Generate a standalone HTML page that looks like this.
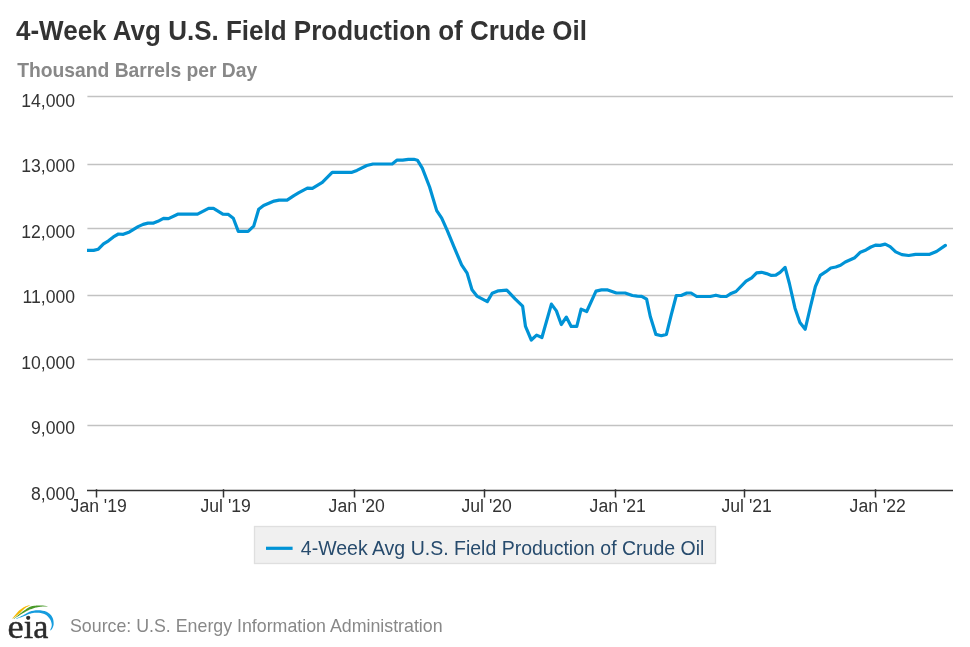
<!DOCTYPE html>
<html><head><meta charset="utf-8"><style>
html,body{margin:0;padding:0;background:#fff;width:970px;height:647px;overflow:hidden}
svg{display:block;will-change:transform}
</style></head><body>
<svg width="970" height="647" viewBox="0 0 970 647">
<text x="0" y="0" transform="translate(16 39.9) scale(1 1.055)" font-family="&quot;Liberation Sans&quot;, sans-serif" font-size="26" font-weight="700" fill="#333">4-Week Avg U.S. Field Production of Crude Oil</text>
<text x="17.2" y="76.6" font-family="&quot;Liberation Sans&quot;, sans-serif" font-size="19.3" font-weight="700" fill="#888">Thousand Barrels per Day</text>
<line x1="87.4" y1="96.5" x2="953" y2="96.5" stroke="#c2c2c2" stroke-width="1.3"/>
<line x1="87.4" y1="164.5" x2="953" y2="164.5" stroke="#c2c2c2" stroke-width="1.3"/>
<line x1="87.4" y1="228.5" x2="953" y2="228.5" stroke="#c2c2c2" stroke-width="1.3"/>
<line x1="87.4" y1="295.5" x2="953" y2="295.5" stroke="#c2c2c2" stroke-width="1.3"/>
<line x1="87.4" y1="359.5" x2="953" y2="359.5" stroke="#c2c2c2" stroke-width="1.3"/>
<line x1="87.4" y1="425.5" x2="953" y2="425.5" stroke="#c2c2c2" stroke-width="1.3"/>
<text x="75" y="106.6" font-family="&quot;Liberation Sans&quot;, sans-serif" font-size="17.6" fill="#333" text-anchor="end">14,000</text>
<text x="75" y="172.1" font-family="&quot;Liberation Sans&quot;, sans-serif" font-size="17.6" fill="#333" text-anchor="end">13,000</text>
<text x="75" y="237.7" font-family="&quot;Liberation Sans&quot;, sans-serif" font-size="17.6" fill="#333" text-anchor="end">12,000</text>
<text x="75" y="303.2" font-family="&quot;Liberation Sans&quot;, sans-serif" font-size="17.6" fill="#333" text-anchor="end">11,000</text>
<text x="75" y="368.8" font-family="&quot;Liberation Sans&quot;, sans-serif" font-size="17.6" fill="#333" text-anchor="end">10,000</text>
<text x="75" y="434.4" font-family="&quot;Liberation Sans&quot;, sans-serif" font-size="17.6" fill="#333" text-anchor="end">9,000</text>
<text x="75" y="499.9" font-family="&quot;Liberation Sans&quot;, sans-serif" font-size="17.6" fill="#333" text-anchor="end">8,000</text>
<line x1="87" y1="490.5" x2="953" y2="490.5" stroke="#333" stroke-width="1.5"/>
<line x1="96.5" y1="489.2" x2="96.5" y2="497.5" stroke="#333" stroke-width="1.5"/>
<text x="98.7" y="512" font-family="&quot;Liberation Sans&quot;, sans-serif" font-size="17.6" fill="#333" text-anchor="middle">Jan '19</text>
<line x1="223.5" y1="489.2" x2="223.5" y2="497.5" stroke="#333" stroke-width="1.5"/>
<text x="225.7" y="512" font-family="&quot;Liberation Sans&quot;, sans-serif" font-size="17.6" fill="#333" text-anchor="middle">Jul '19</text>
<line x1="354.5" y1="489.2" x2="354.5" y2="497.5" stroke="#333" stroke-width="1.5"/>
<text x="356.7" y="512" font-family="&quot;Liberation Sans&quot;, sans-serif" font-size="17.6" fill="#333" text-anchor="middle">Jan '20</text>
<line x1="484.5" y1="489.2" x2="484.5" y2="497.5" stroke="#333" stroke-width="1.5"/>
<text x="486.7" y="512" font-family="&quot;Liberation Sans&quot;, sans-serif" font-size="17.6" fill="#333" text-anchor="middle">Jul '20</text>
<line x1="615.5" y1="489.2" x2="615.5" y2="497.5" stroke="#333" stroke-width="1.5"/>
<text x="617.7" y="512" font-family="&quot;Liberation Sans&quot;, sans-serif" font-size="17.6" fill="#333" text-anchor="middle">Jan '21</text>
<line x1="744.5" y1="489.2" x2="744.5" y2="497.5" stroke="#333" stroke-width="1.5"/>
<text x="746.7" y="512" font-family="&quot;Liberation Sans&quot;, sans-serif" font-size="17.6" fill="#333" text-anchor="middle">Jul '21</text>
<line x1="875.5" y1="489.2" x2="875.5" y2="497.5" stroke="#333" stroke-width="1.5"/>
<text x="877.7" y="512" font-family="&quot;Liberation Sans&quot;, sans-serif" font-size="17.6" fill="#333" text-anchor="middle">Jan '22</text>
<clipPath id="pc"><rect x="87" y="80" width="870" height="420"/></clipPath>
<path clip-path="url(#pc)" d="M87.2 250.4 L93.6 250.4 L98.3 249.2 L103.5 243.9 L108.5 240.8 L113.4 236.9 L118.4 234.0 L123.3 234.3 L129.5 231.9 L138.1 226.6 L143.1 224.4 L148.0 223.1 L153.6 223.1 L157.9 221.3 L163.5 218.3 L168.5 218.6 L177.7 214.2 L197.5 214.2 L208.6 208.3 L213.5 208.3 L222.8 214.1 L228.4 214.4 L233.3 218.2 L238.3 231.4 L248.1 231.4 L253.7 226.1 L258.7 209.2 L263.6 205.5 L274.1 201.1 L279.1 200.1 L287.1 200.1 L293.9 195.6 L298.9 192.7 L307.4 188.1 L312.4 188.4 L322.3 182.4 L332.2 172.3 L352.0 172.3 L356.9 170.4 L366.8 165.5 L373.0 164.0 L392.2 164.0 L397.1 160.1 L402.7 160.1 L408.3 159.3 L413.9 159.3 L417.4 160.2 L422.3 168.1 L429.6 187.0 L436.7 210.6 L441.7 218.2 L447.3 230.7 L453.9 246.7 L461.6 264.8 L467.1 273.1 L472.0 289.8 L476.9 296.1 L487.3 301.6 L492.2 293.3 L498.4 290.8 L506.8 290.1 L515.1 298.8 L522.6 306.1 L525.5 326.4 L531.3 340.0 L536.6 335.1 L541.9 337.5 L551.4 304.1 L556.4 310.9 L561.3 324.5 L566.3 317.1 L571.2 326.4 L576.8 326.4 L581.1 309.1 L586.7 311.5 L596.0 291.1 L601.5 289.9 L607.7 289.9 L616.4 293.0 L625.1 293.0 L632.4 295.5 L637.3 296.1 L641.7 296.3 L646.6 299.2 L650.3 316.5 L655.9 334.4 L661.4 335.7 L666.4 334.4 L671.3 314.6 L676.3 295.5 L681.2 295.5 L686.8 293.0 L691.1 293.0 L696.7 296.5 L710.3 296.5 L715.9 295.2 L720.8 296.5 L726.4 296.5 L730.4 293.8 L736.0 291.5 L746.1 281.2 L751.7 277.9 L756.6 272.9 L761.5 272.3 L766.5 273.6 L771.4 275.4 L775.8 275.2 L780.1 272.3 L785.1 267.4 L789.4 283.5 L795.0 308.2 L799.9 322.4 L805.2 329.2 L810.4 307.0 L815.4 286.5 L820.3 275.4 L825.9 271.7 L830.8 268.0 L835.8 267.0 L840.5 265.3 L845.3 262.0 L854.8 257.7 L860.4 252.2 L866.0 249.9 L870.9 247.0 L875.9 245.1 L880.2 245.4 L885.2 244.1 L890.1 246.6 L895.7 251.9 L901.9 254.6 L908.7 255.5 L915.5 254.3 L929.7 254.3 L936.5 251.5 L945.4 245.4" fill="none" stroke="#0093d6" stroke-width="3.2" stroke-linejoin="round" stroke-linecap="round"/>
<rect x="254.5" y="526.5" width="461" height="37" fill="#f0f0f0" stroke="#dfdfdf" stroke-width="1.3"/>
<line x1="266" y1="548.3" x2="292.6" y2="548.3" stroke="#0093d6" stroke-width="3.2"/>
<text x="300.8" y="554.8" font-family="&quot;Liberation Sans&quot;, sans-serif" font-size="19.5" fill="#274b6d">4-Week Avg U.S. Field Production of Crude Oil</text>
<text x="70" y="632" font-family="&quot;Liberation Sans&quot;, sans-serif" font-size="17.8" fill="#888">Source: U.S. Energy Information Administration</text>
<g fill="#2b2b2b" stroke="#2b2b2b" stroke-width="0.45" font-family="&quot;Liberation Serif&quot;, serif" font-size="34">
<text x="0" y="0" transform="translate(7.6 637.8) scale(1.07 1)">e</text>
<text x="0" y="0" transform="translate(23.7 637.8) scale(1.0 1)">i</text>
<text x="0" y="0" transform="translate(33.2 637.8) scale(1.0 1)">a</text>
</g>
<path d="M12.50 618.71 L13.15 618.21 L13.80 617.71 L14.45 617.20 L15.11 616.68 L15.77 616.17 L16.43 615.66 L17.07 615.16 L17.71 614.67 L18.34 614.19 L18.95 613.73 L19.53 613.30 L20.10 612.89 L20.62 612.47 L21.07 611.99 L21.50 611.54 L21.92 611.10 L22.33 610.68 L22.73 610.28 L23.12 609.90 L23.51 609.53 L23.90 609.17 L24.28 608.83 L24.68 608.50 L25.07 608.18 L25.47 607.89 L25.86 607.62 L26.26 607.36 L26.67 607.12 L27.07 606.90 L27.48 606.68 L27.89 606.47 L28.31 606.26 L28.73 606.05 L29.14 605.84 L29.56 605.61 L29.98 605.38 L29.82 605.02 L29.37 605.17 L28.93 605.32 L28.48 605.46 L28.04 605.59 L27.59 605.73 L27.14 605.87 L26.69 606.02 L26.23 606.18 L25.76 606.36 L25.29 606.55 L24.81 606.77 L24.33 607.02 L23.85 607.28 L23.37 607.56 L22.90 607.85 L22.43 608.15 L21.96 608.46 L21.48 608.79 L21.00 609.13 L20.52 609.49 L20.02 609.86 L19.51 610.24 L18.98 610.63 L18.50 611.11 L18.02 611.65 L17.53 612.21 L17.02 612.80 L16.51 613.41 L15.99 614.03 L15.46 614.67 L14.93 615.31 L14.40 615.95 L13.87 616.60 L13.34 617.24 L12.81 617.87 L12.30 618.49 Z" fill="#f5b800"/>
<path d="M13.79 618.92 L14.64 618.39 L15.51 617.85 L16.38 617.30 L17.26 616.75 L18.14 616.20 L19.02 615.65 L19.88 615.11 L20.73 614.58 L21.57 614.07 L22.39 613.58 L23.18 613.12 L23.94 612.69 L24.68 612.27 L25.38 611.87 L26.06 611.49 L26.71 611.12 L27.34 610.78 L27.96 610.45 L28.57 610.14 L29.17 609.86 L29.77 609.60 L30.38 609.35 L31.00 609.13 L31.63 608.91 L32.27 608.65 L32.93 608.40 L33.62 608.18 L34.32 607.96 L35.04 607.77 L35.76 607.59 L36.49 607.43 L37.22 607.28 L37.95 607.14 L38.66 607.02 L39.37 606.90 L40.05 606.80 L40.71 606.72 L41.35 606.66 L41.99 606.61 L42.63 606.59 L43.26 606.58 L43.89 606.58 L44.52 606.58 L45.14 606.59 L45.78 606.60 L46.41 606.61 L47.05 606.61 L47.69 606.60 L47.71 606.20 L47.08 606.13 L46.45 606.05 L45.83 605.96 L45.20 605.87 L44.58 605.77 L43.95 605.68 L43.31 605.60 L42.67 605.53 L42.01 605.47 L41.34 605.42 L40.65 605.40 L39.95 605.40 L39.24 605.41 L38.51 605.43 L37.76 605.46 L36.99 605.51 L36.22 605.56 L35.44 605.63 L34.65 605.72 L33.86 605.83 L33.08 605.96 L32.30 606.11 L31.53 606.28 L30.77 606.49 L30.05 606.78 L29.38 607.11 L28.72 607.46 L28.09 607.82 L27.47 608.20 L26.87 608.60 L26.26 609.01 L25.65 609.44 L25.03 609.88 L24.40 610.34 L23.75 610.82 L23.06 611.31 L22.34 611.84 L21.59 612.39 L20.82 612.98 L20.04 613.58 L19.25 614.21 L18.45 614.84 L17.64 615.48 L16.83 616.13 L16.01 616.78 L15.21 617.42 L14.41 618.06 L13.61 618.68 Z" fill="#4a9a2a"/>
<path d="M16.26 618.94 L16.88 618.71 L17.50 618.49 L18.12 618.27 L18.73 618.05 L19.35 617.83 L19.97 617.61 L20.59 617.38 L21.21 617.16 L21.83 616.93 L22.46 616.70 L23.09 616.47 L23.74 616.24 L24.39 615.99 L25.05 615.72 L25.71 615.44 L26.37 615.16 L27.03 614.87 L27.68 614.59 L28.34 614.33 L28.98 614.07 L29.62 613.84 L30.25 613.63 L30.87 613.45 L31.48 613.29 L32.09 613.15 L32.71 613.03 L33.33 612.92 L33.95 612.83 L34.57 612.76 L35.18 612.71 L35.79 612.67 L36.40 612.65 L37.01 612.65 L37.61 612.67 L38.21 612.71 L38.81 612.76 L39.41 612.83 L40.03 612.92 L40.66 613.03 L41.28 613.15 L41.90 613.30 L42.52 613.46 L43.12 613.63 L43.69 613.82 L44.25 614.03 L44.77 614.25 L45.25 614.48 L45.69 614.72 L46.09 614.97 L46.48 615.25 L46.86 615.56 L47.23 615.88 L47.58 616.23 L47.91 616.59 L48.23 616.97 L48.53 617.35 L48.82 617.74 L49.13 618.10 L49.43 618.46 L49.70 618.80 L49.94 619.13 L50.16 619.46 L50.36 619.82 L50.55 620.20 L50.72 620.59 L50.88 620.98 L51.03 621.39 L51.16 621.79 L51.27 622.19 L51.38 622.59 L51.47 622.97 L51.56 623.33 L51.63 623.66 L51.68 623.96 L51.71 624.26 L51.74 624.55 L51.74 624.83 L51.74 625.11 L51.73 625.39 L51.70 625.67 L51.67 625.94 L51.62 626.22 L51.57 626.51 L51.52 626.79 L51.46 627.05 L51.38 627.31 L51.29 627.57 L51.19 627.83 L51.08 628.09 L50.95 628.35 L50.82 628.62 L50.68 628.89 L50.55 629.16 L50.41 629.44 L50.28 629.73 L50.15 630.01 L50.85 630.39 L51.02 630.15 L51.19 629.90 L51.36 629.66 L51.54 629.42 L51.73 629.17 L51.91 628.92 L52.09 628.66 L52.27 628.40 L52.44 628.12 L52.60 627.83 L52.75 627.52 L52.88 627.21 L53.00 626.91 L53.11 626.61 L53.21 626.31 L53.31 625.99 L53.39 625.67 L53.47 625.34 L53.54 624.99 L53.59 624.64 L53.63 624.26 L53.65 623.88 L53.65 623.48 L53.64 623.07 L53.62 622.66 L53.59 622.23 L53.55 621.78 L53.50 621.30 L53.43 620.82 L53.34 620.32 L53.24 619.80 L53.11 619.28 L52.95 618.76 L52.77 618.23 L52.55 617.71 L52.30 617.20 L52.03 616.71 L51.75 616.23 L51.44 615.75 L51.06 615.29 L50.66 614.84 L50.23 614.39 L49.77 613.96 L49.29 613.54 L48.79 613.14 L48.25 612.76 L47.69 612.40 L47.11 612.08 L46.50 611.80 L45.87 611.54 L45.22 611.32 L44.55 611.11 L43.86 610.93 L43.17 610.77 L42.47 610.63 L41.76 610.51 L41.06 610.42 L40.36 610.34 L39.67 610.28 L38.99 610.24 L38.32 610.22 L37.64 610.22 L36.97 610.25 L36.29 610.29 L35.62 610.35 L34.94 610.43 L34.27 610.53 L33.60 610.65 L32.93 610.79 L32.26 610.94 L31.59 611.12 L30.92 611.31 L30.24 611.54 L29.57 611.81 L28.91 612.11 L28.25 612.43 L27.61 612.77 L26.97 613.12 L26.33 613.47 L25.71 613.83 L25.09 614.18 L24.47 614.52 L23.87 614.85 L23.26 615.16 L22.66 615.46 L22.06 615.76 L21.46 616.06 L20.87 616.35 L20.27 616.64 L19.68 616.93 L19.09 617.22 L18.50 617.51 L17.92 617.79 L17.33 618.08 L16.73 618.37 L16.14 618.66 Z" fill="#159cde"/>
</svg>
</body></html>
